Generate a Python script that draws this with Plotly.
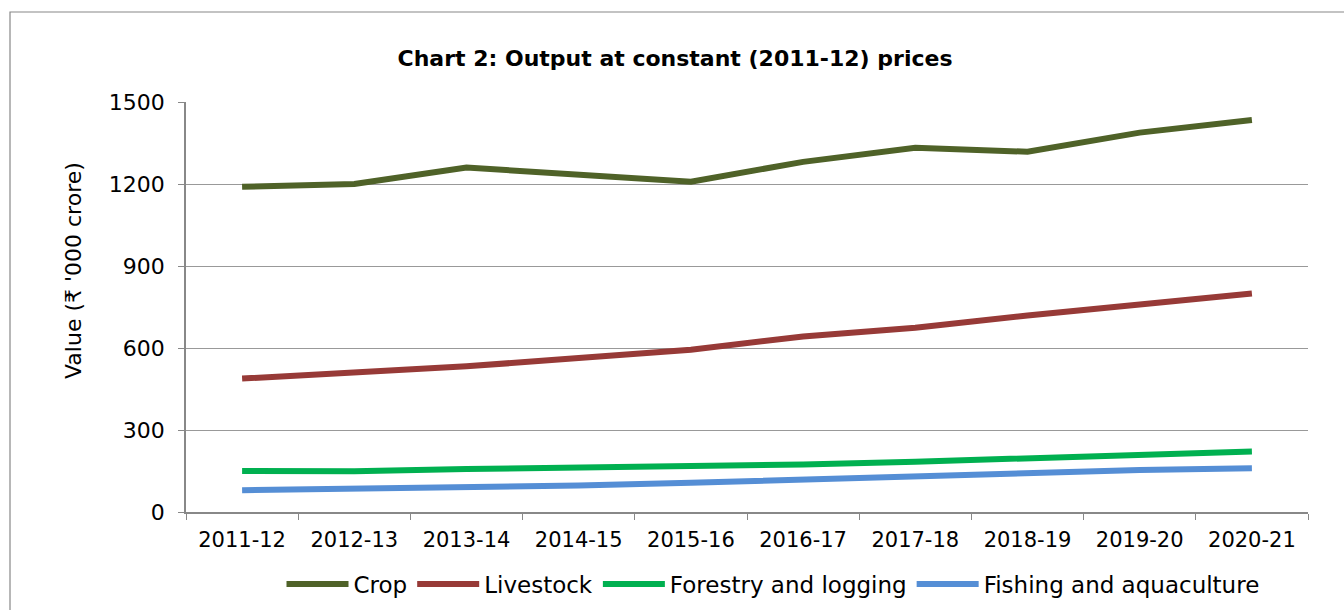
import plotly.graph_objects as go

years = ["2011-12", "2012-13", "2013-14", "2014-15", "2015-16",
         "2016-17", "2017-18", "2018-19", "2019-20", "2020-21"]
crop = [1190, 1200, 1260, 1232, 1208, 1281, 1333, 1318, 1388, 1434]
livestock = [488, 508, 533, 563, 594, 642, 674, 719, 760, 799]
forestry = [150, 149, 157, 162, 166, 174, 184, 196, 208, 221]
fishing = [80, 84, 90, 97, 107, 119, 135, 145, 154, 160]

series = [
    ("Crop", crop, "#4F6228"),
    ("Livestock", livestock, "#973A37"),
    ("Forestry and logging", forestry, "#00B050"),
    ("Fishing and aquaculture", fishing, "#558ED5"),
]

FONT = "DejaVu Sans, Liberation Sans, Arial, sans-serif"

fig = go.Figure()
for name, vals, col in series:
    fig.add_trace(go.Scatter(x=years, y=vals, name=name, mode="lines",
                             line=dict(color=col, width=6)))

fig.update_layout(
    width=1344, height=610,
    paper_bgcolor="white", plot_bgcolor="white",
    margin=dict(l=186, r=36, t=102, b=98, autoexpand=False),
    font=dict(family=FONT, color="black"),
    title=dict(text="<b>Chart 2: Output at constant (2011-12) prices</b>",
               x=675 / 1344, xanchor="center", y=1 - 58 / 610, yanchor="middle",
               font=dict(size=22, family=FONT)),
    showlegend=True,
    legend=dict(orientation="h", x=(773 - 186) / 1122, xanchor="center",
                y=(512 - 584) / 410, yanchor="middle",
                font=dict(size=23), itemwidth=62, tracegroupgap=0,
                bgcolor="rgba(0,0,0,0)"),
    xaxis=dict(type="category", showline=True, linecolor="#888888", linewidth=1.5,
               ticks="outside", tickson="boundaries", ticklen=6, tickcolor="#888888",
               tickfont=dict(size=21), showgrid=False, range=[-0.5, 9.5],
               ticklabelstandoff=8),
    yaxis=dict(range=[0, 1500], tickvals=[0, 300, 600, 900, 1200, 1500],
               showline=True, linecolor="#888888", linewidth=1.5,
               ticks="outside", ticklen=6, tickcolor="#888888",
               showgrid=True, gridcolor="#999999", gridwidth=1.2,
               tickfont=dict(size=22), zeroline=False, ticklabelstandoff=9),
    annotations=[dict(text="Value (₹ '000 crore)", textangle=-90, showarrow=False,
                      xref="paper", yref="paper",
                      x=(73 - 186) / 1122, y=(512 - 271) / 410,
                      xanchor="center", yanchor="middle",
                      font=dict(size=22, family=FONT))],
    shapes=[dict(type="rect", xref="paper", yref="paper",
                 x0=(10 - 186) / 1122, x1=1.2, y0=-0.6, y1=(512 - 12) / 410,
                 line=dict(color="#888888", width=1.2))],
)

fig.write_html("out.html", config={"displayModeBar": False})

with open("out.html", "r", encoding="utf-8") as f:
    html = f.read()
html = html.replace("<head>", "<head><style>html,body{margin:0;padding:0;overflow:hidden;}</style>", 1)
with open("out.html", "w", encoding="utf-8") as f:
    f.write(html)
